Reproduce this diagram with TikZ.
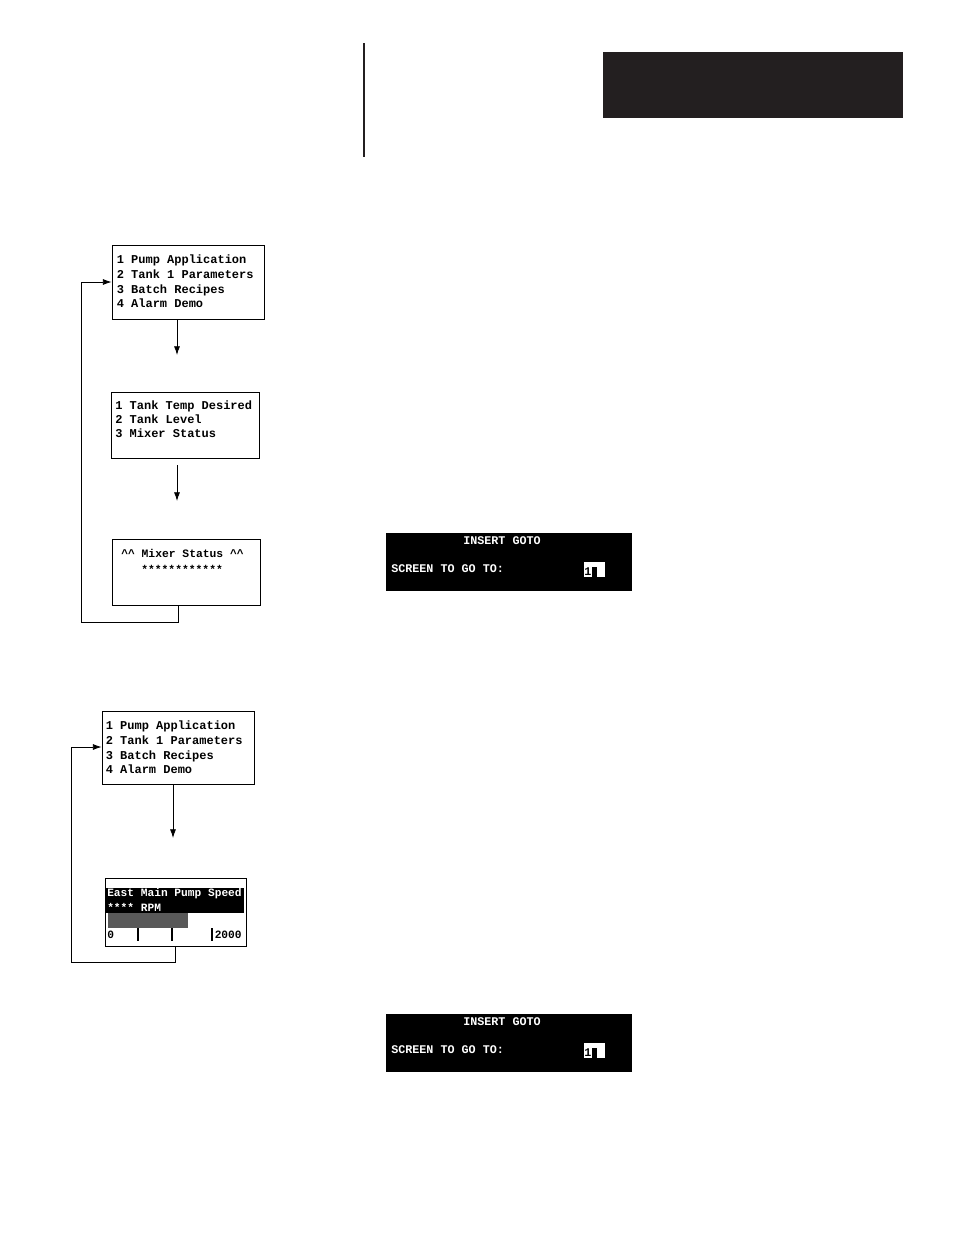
\documentclass[tikz,border=0pt]{standalone}
\usepackage{fontspec}
\newfontfamily\scrfont{Liberation Mono}
\usetikzlibrary{arrows.meta,fit,calc}
\definecolor{hdr}{RGB}{35,31,32}
\begin{document}
\begin{tikzpicture}[x=0.75pt,y=-0.75pt,
  frame/.style={draw, line width=0.6pt, inner sep=0pt},
  scr/.style={font=\scrfont\bfseries\fontsize{9pt}{10pt}\selectfont, inner sep=0pt, anchor=base west},
  scrs/.style={font=\scrfont\bfseries\fontsize{8.4pt}{10pt}\selectfont, inner sep=0pt, anchor=base west},
  gscr/.style={font=\scrfont\bfseries\fontsize{8.8pt}{10pt}\selectfont, inner sep=0pt, text=white},
  arr/.style={line width=0.6pt, -{Latex[length=6.5pt,width=4.5pt]}},
  tick/.style={line width=1.5pt}]
\useasboundingbox[fill=white] (0,0) rectangle (954,1235);

% header
\draw[line width=1.5pt, hdr] (364,43) -- (364,157);
\fill[hdr] (603,52) rectangle (903,118);

% box 1
\node[frame, fit={(112,245) (264,319)}] (b1) {};
\node[scr] (b1t1) at (116.5,263) {1 Pump Application};
\node[scr] (b1t2) at (116.5,278) {2 Tank 1 Parameters};
\node[scr] (b1t3) at (116.5,293) {3 Batch Recipes};
\node[scr] (b1t4) at (116.5,307) {4 Alarm Demo};

% box 2
\node[frame, fit={(111,392) (259,458)}] (b2) {};
\node[scr] (b2t1) at (115,409) {1 Tank Temp Desired};
\node[scr] (b2t2) at (115,423) {2 Tank Level};
\node[scr] (b2t3) at (115,437) {3 Mixer Status};

% box 3
\node[frame, fit={(112,539) (260,605)}] (b3) {};
\node[scr, font=\scrfont\bfseries\fontsize{8.5pt}{10pt}\selectfont] (b3t1) at (121,557) {\^{}\^{} Mixer Status \^{}\^{}};
\node[scr, font=\scrfont\bfseries\fontsize{8.5pt}{10pt}\selectfont] (b3t2) at (141,573) {************};

% arrows first group
\coordinate (a1) at (177,355);
\draw[arr] (b1.south -| a1) -- (a1);
\coordinate (a2s) at (177,465);
\coordinate (a2e) at (177,501);
\draw[arr] (a2s) -- (a2e);
\coordinate (l1) at (81,622);
\coordinate (e1) at (112,282);
\draw[arr] ($(b3.south west)+(67,0)$) |- (l1) |- (b1.west |- e1);

% insert goto 1
\node[fill=black, inner sep=0pt, fit={(386,533) (632,591)}] (g1) {};
\node[gscr, anchor=base] (g1t1) at (502,544) {INSERT GOTO};
\node[gscr, anchor=base west] (g1t2) at (391,572) {SCREEN TO GO TO:};
\node[fill=white, inner sep=0pt, fit={(584,562) (605,577)}] (g1c) {};
\fill[black] (592,567) rectangle (597,577);
\node[gscr, text=black, anchor=base west] (g1t3) at (584,575) {1};

% box 4
\node[frame, fit={(102,711) (254,784)}] (b4) {};
\node[scr] (b4t1) at (105.5,729) {1 Pump Application};
\node[scr] (b4t2) at (105.5,744) {2 Tank 1 Parameters};
\node[scr] (b4t3) at (105.5,759) {3 Batch Recipes};
\node[scr] (b4t4) at (105.5,773) {4 Alarm Demo};

% box 5
\node[frame, fit={(105,878) (246,946)}] (b5) {};
\fill[black] (106,888) rectangle (244,913);
\fill[black!65] (108,913) rectangle (188,928);
\node[scrs, text=white] (b5t1) at (107,896) {East Main Pump Speed};
\node[scrs, text=white] (b5t2) at (107,911) {**** RPM};
\node[scrs] (b5t3) at (107,938) {0};
\node[scrs] (b5t4) at (214.5,938) {2000};
\draw[tick] (138,928) -- (138,941);
\draw[tick] (172,928) -- (172,941);
\draw[line width=0.8pt] (212,928) -- (212,941);

% arrows second group
\coordinate (a4) at (173,838);
\draw[arr] (b4.south -| a4) -- (a4);
\coordinate (l2) at (71,962);
\coordinate (e2) at (102,747);
\draw[arr] ($(b5.south west)+(70.7,0)$) |- (l2) |- (b4.west |- e2);

% insert goto 2
\node[fill=black, inner sep=0pt, fit={(386,1014) (632,1072)}] (g2) {};
\node[gscr, anchor=base] (g2t1) at (502,1025) {INSERT GOTO};
\node[gscr, anchor=base west] (g2t2) at (391,1053) {SCREEN TO GO TO:};
\node[fill=white, inner sep=0pt, fit={(584,1043) (605,1058)}] (g2c) {};
\fill[black] (592,1048) rectangle (597,1058);
\node[gscr, text=black, anchor=base west] (g2t3) at (584,1056) {1};
\end{tikzpicture}
\end{document}
